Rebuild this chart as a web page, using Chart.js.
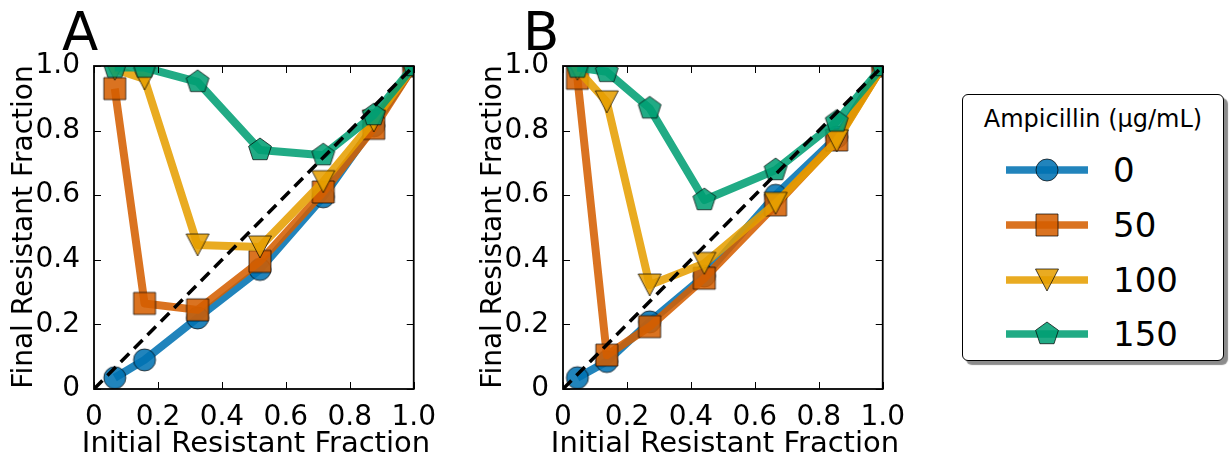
<!DOCTYPE html>
<html>
<head>
<meta charset="utf-8">
<script src="https://cdn.jsdelivr.net/npm/chart.js@4"></script>
<style>
  html, body { margin: 0; padding: 0; background: #fff; }
  body { width: 1230px; height: 460px; position: relative; overflow: hidden; font-family: 'DejaVu Sans', sans-serif; }
  .panel { position: absolute; top: 0; width: 440px; height: 460px; }
  .letter { position: absolute; font-size: 53px; line-height: 1; color: #000; }
  .xtitle, .ytitle { position: absolute; width: 500px; height: 28px; font-size: 28px; line-height: 28px;
                     text-align: center; white-space: nowrap; color: #000; }
  .xtitle { font-size: 29px; }
  .ytitle { transform: rotate(-90deg); }
  #legend { position: absolute; left: 962px; top: 94px; width: 260px; height: 265px;
            border: 1.5px solid #000; border-radius: 6px; background: #fff;
            box-shadow: 4px 4px 1px rgba(0,0,0,0.45); }
  #legend .title { position: absolute; left: 0; width: 100%; top: 12px; text-align: center; font-size: 24px; line-height: 1; }
  #legend .row { position: absolute; left: 0; height: 30px; }
  #legend canvas { position: absolute; left: 43px; top: 0; }
  #legend span { position: absolute; left: 150px; top: -2px; font-size: 34px; line-height: 34px; }
</style>
</head>
<body>
<div class="letter" style="left:62px; top:5px;">A</div>
<div class="letter" style="left:523px; top:5px;">B</div>
<div class="panel" style="left:0px;"><canvas id="chartA"></canvas></div>
<div class="panel" style="left:469px;"><canvas id="chartB"></canvas></div>
<div class="xtitle" style="left:6px; top:428px;">Initial Resistant Fraction</div>
<div class="xtitle" style="left:475px; top:428px;">Initial Resistant Fraction</div>
<div class="ytitle" style="left:-227px; top:213px;">Final Resistant Fraction</div>
<div class="ytitle" style="left:242px; top:213px;">Final Resistant Fraction</div>
<div id="legend"><div class="title">Ampicillin (μg/mL)</div></div>

<script>
// ---- data ----
const doses = ['0', '50', '100', '150'];
const tickValues = [0, 0.2, 0.4, 0.6, 0.8, 1.0];

// panel A
const initialA = [0.065, 0.158, 0.324, 0.519, 0.717, 0.875, 1.0];
const finalA_0   = [0.035, 0.09, 0.22, 0.37, 0.595, 0.815, 1.0];
const finalA_50  = [0.93, 0.265, 0.245, 0.395, 0.61, 0.807, 1.0];
const finalA_100 = [0.99, 0.96, 0.446, 0.44, 0.642, 0.83, 1.0];
const finalA_150 = [0.995, 0.995, 0.951, 0.74, 0.724, 0.848, 1.0];

// panel B
const initialB = [0.045, 0.137, 0.271, 0.442, 0.665, 0.856, 1.0];
const finalB_0   = [0.035, 0.085, 0.208, 0.35, 0.6, 0.78, 1.0];
const finalB_50  = [0.962, 0.105, 0.193, 0.343, 0.57, 0.771, 1.0];
const finalB_100 = [0.99, 0.889, 0.322, 0.389, 0.575, 0.768, 1.0];
const finalB_150 = [0.995, 0.982, 0.869, 0.585, 0.678, 0.828, 1.0];

// ---- styling ----
Chart.defaults.font.family = "'DejaVu Sans', sans-serif";
Chart.defaults.color = '#000';

const palette = {
    '0':   { rgb: '0,114,178', shape: 'circle' },
    '50':  { rgb: '213,94,0',  shape: 'square' },
    '100': { rgb: '230,159,0', shape: 'triangleDown' },
    '150': { rgb: '0,158,115', shape: 'pentagon' }
};
const ALPHA = 0.87;
const FONT = 28;

// marker glyphs drawn once into small canvases, used as pointStyle
function makeMarker(shape, rgb) {
    const size = 28;
    const c = document.createElement('canvas');
    c.width = size; c.height = size;
    const g = c.getContext('2d');
    const m = size / 2;
    g.beginPath();
    if (shape === 'circle') {
        g.arc(m, m, 11, 0, Math.PI * 2);
    } else if (shape === 'square') {
        g.rect(m - 11, m - 11, 22, 22);
    } else if (shape === 'triangleDown') {
        g.moveTo(m - 11.5, m - 11);
        g.lineTo(m + 11.5, m - 11);
        g.lineTo(m, m + 11);
        g.closePath();
    } else if (shape === 'pentagon') {
        const R = 12;
        for (let i = 0; i < 5; i++) {
            const a = -Math.PI / 2 + i * 2 * Math.PI / 5;
            const px = m + R * Math.cos(a), py = m + R * Math.sin(a);
            if (i === 0) g.moveTo(px, py); else g.lineTo(px, py);
        }
        g.closePath();
    }
    g.fillStyle = `rgba(${rgb},${ALPHA})`;
    g.fill();
    g.lineWidth = 1;
    g.strokeStyle = 'rgba(0,0,0,0.7)';
    g.stroke();
    return c;
}

const markers = {};
doses.forEach(d => { markers[d] = makeMarker(palette[d].shape, palette[d].rgb); });

function toPoints(xs, ys) {
    return xs.map((x, i) => ({ x: x, y: ys[i] }));
}

function seriesDataset(dose, xs, ys, order) {
    const col = `rgba(${palette[dose].rgb},${ALPHA})`;
    return {
        label: dose,
        data: toPoints(xs, ys),
        borderColor: col,
        borderWidth: 8,
        borderJoinStyle: 'round',
        pointStyle: markers[dose],
        pointRadius: 11,
        pointHoverRadius: 11,
        order: order,
        clip: 0
    };
}

// frame with inward ticks on all four sides
const framePlugin = {
    id: 'frame',
    afterDatasetsDraw(chart) {
        const { ctx, chartArea: a, scales: { x, y } } = chart;
        const len = 7;
        ctx.save();
        ctx.strokeStyle = '#000';
        ctx.lineWidth = 1;
        ctx.beginPath();
        x.ticks.forEach(t => {
            const px = Math.round(x.getPixelForValue(t.value)) + 0.5;
            ctx.moveTo(px, a.bottom); ctx.lineTo(px, a.bottom - len);
            ctx.moveTo(px, a.top); ctx.lineTo(px, a.top + len);
        });
        y.ticks.forEach(t => {
            const py = Math.round(y.getPixelForValue(t.value)) + 0.5;
            ctx.moveTo(a.left, py); ctx.lineTo(a.left + len, py);
            ctx.moveTo(a.right, py); ctx.lineTo(a.right - len, py);
        });
        ctx.stroke();
        ctx.lineWidth = 1.8;
        ctx.strokeRect(a.left, a.top, a.right - a.left, a.bottom - a.top);
        ctx.restore();
    }
};

function axisOpts(isX) {
    return {
        type: 'linear',
        min: 0,
        max: 1,
        afterBuildTicks: s => { s.ticks = tickValues.map(v => ({ value: v })); },
        afterFit: s => { if (isX) s.height = 71; else s.width = 94; },
        grid: { display: false },
        border: { display: false },
        ticks: {
            font: { size: FONT },
            padding: isX ? 4 : 6,
            maxRotation: 0,
            callback: v => v === 0 ? '0' : v.toFixed(1)
        },
        // axis titles are HTML text placed around the canvas
        title: { display: false }
    };
}

function makePanel(canvasId, xs, s0, s50, s100, s150) {
    new Chart(document.getElementById(canvasId), {
        type: 'line',
        data: {
            datasets: [
                {
                    label: 'diagonal',
                    data: [{ x: 0, y: 0 }, { x: 1, y: 1 }],
                    borderColor: '#000',
                    borderWidth: 3.5,
                    borderDash: [12, 7],
                    pointRadius: 0,
                    order: 0,
                    clip: 0
                },
                seriesDataset('0', xs, s0, 4),
                seriesDataset('50', xs, s50, 3),
                seriesDataset('100', xs, s100, 2),
                seriesDataset('150', xs, s150, 1)
            ]
        },
        options: {
            responsive: true,
            maintainAspectRatio: false,
            animation: false,
            devicePixelRatio: 1,
            layout: { padding: { top: 66, right: 23, left: 0, bottom: 0 } },
            plugins: { legend: { display: false }, tooltip: { enabled: false } },
            scales: {
                x: axisOpts(true),
                y: axisOpts(false)
            }
        },
        plugins: [framePlugin]
    });
}

makePanel('chartA', initialA, finalA_0, finalA_50, finalA_100, finalA_150);
makePanel('chartB', initialB, finalB_0, finalB_50, finalB_100, finalB_150);

// ---- legend box ----
const legend = document.getElementById('legend');
const rowTops = [60, 115, 170, 224];
doses.forEach((d, i) => {
    const row = document.createElement('div');
    row.className = 'row';
    row.style.top = rowTops[i] + 'px';
    const c = document.createElement('canvas');
    c.width = 82; c.height = 30;
    const g = c.getContext('2d');
    g.strokeStyle = `rgba(${palette[d].rgb},${ALPHA})`;
    g.lineWidth = 7.5;
    g.beginPath();
    g.moveTo(0, 15); g.lineTo(82, 15);
    g.stroke();
    g.drawImage(markers[d], 41 - 14, 15 - 14);
    row.appendChild(c);
    const label = document.createElement('span');
    label.textContent = d;
    row.appendChild(label);
    legend.appendChild(row);
});
</script>
</body>
</html>
